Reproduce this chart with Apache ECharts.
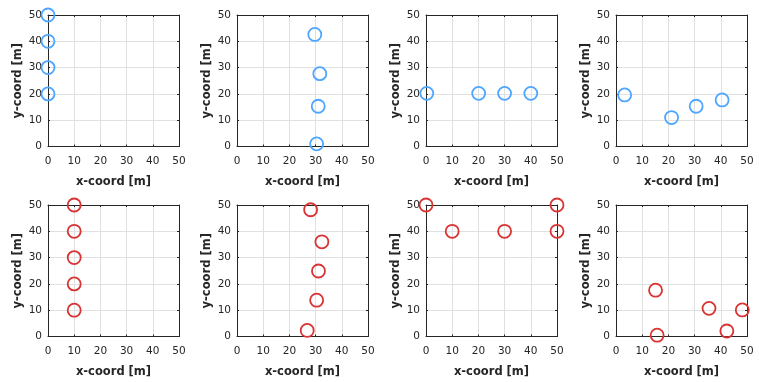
<!DOCTYPE html>
<html>
<head>
<meta charset="utf-8">
<script src="https://cdn.jsdelivr.net/npm/echarts@6/dist/echarts.min.js"></script>
<style>html,body{margin:0;padding:0;background:#fff}#c{width:759px;height:382px}</style>
</head>
<body>
<div id="c"></div>
<script>
// Panel data: [x, y] in metres
const panel1 = [[0, 50], [0, 40], [0, 30], [0, 20]];
const panel2 = [[29.7, 42.6], [31.6, 27.7], [31.0, 15.3], [30.4, 1.0]];
const panel3 = [[0.3, 20.2], [20.1, 20.2], [30.0, 20.2], [40.0, 20.2]];
const panel4 = [[3.3, 19.6], [21.2, 11.0], [30.6, 15.3], [40.5, 17.7]];
const panel5 = [[10, 50], [10, 40], [10, 30], [10, 20], [10, 10]];
const panel6 = [[28.1, 48.2], [32.4, 36.0], [31.1, 24.9], [30.4, 13.8], [26.8, 2.3]];
const panel7 = [[0, 50], [10, 40], [30, 40], [50, 50], [50, 40]];
const panel8 = [[15.1, 17.6], [15.7, 0.5], [35.5, 10.7], [42.3, 2.1], [48.2, 10.1]];
const panels = [panel1, panel2, panel3, panel4, panel5, panel6, panel7, panel8];
const colors = ['#4DA6FF','#4DA6FF','#4DA6FF','#4DA6FF','#D93333','#D93333','#D93333','#D93333'];
const ticks = [0, 10, 20, 30, 40, 50];
const xTitle = 'x-coord [m]';
const yTitle = 'y-coord [m]';

const lefts = [48, 237, 426, 616];
const tops = [15, 205];
const W = 131, H = 131.5;
const font = 'DejaVu Sans, Verdana, sans-serif';
const grids = [], xAxes = [], yAxes = [], series = [];
panels.forEach((d, i) => {
  const c = i % 4, r = Math.floor(i / 4);
  grids.push({left: lefts[c], top: tops[r], width: W, height: H});
  const axisCommon = {
    gridIndex: i, type: 'value', min: ticks[0], max: ticks[ticks.length - 1], interval: 10,
    nameLocation: 'middle',
    nameTextStyle: {fontFamily: font, fontWeight: 'bold', fontSize: 11.5, color: '#262626'},
    axisLine: {show: true, onZero: false, lineStyle: {color: '#262626', width: 1}},
    axisTick: {show: true, inside: true, length: 2, lineStyle: {color: '#262626'}},
    axisLabel: {fontFamily: font, fontSize: 10.5, color: '#262626'},
    splitLine: {show: true, lineStyle: {color: '#e0e0e0', width: 1}},
    z: 1
  };
  xAxes.push(Object.assign({}, axisCommon, {position: 'bottom', name: xTitle, nameGap: 30, axisLabel: Object.assign({}, axisCommon.axisLabel, {margin: 9})}));
  yAxes.push(Object.assign({}, axisCommon, {position: 'left', name: yTitle, nameGap: 24, axisLabel: Object.assign({}, axisCommon.axisLabel, {margin: 6})}));
  series.push({
    type: 'scatter', xAxisIndex: i, yAxisIndex: i, data: d, clip: false,
    symbol: 'circle', symbolSize: 13,
    itemStyle: {color: 'rgba(0,0,0,0)', borderColor: colors[i], borderWidth: 1.8, opacity: 1},
    silent: true, z: 5
  });
});
// box: top and right frame axes
panels.forEach((d, i) => {
  const frame = {
    gridIndex: i, type: 'value', min: ticks[0], max: ticks[ticks.length - 1], interval: 10,
    axisLine: {show: true, onZero: false, lineStyle: {color: '#262626', width: 1}},
    axisTick: {show: true, inside: true, length: 2, lineStyle: {color: '#262626'}},
    axisLabel: {show: false}, splitLine: {show: false}, z: 3
  };
  xAxes.push(Object.assign({}, frame, {position: 'top'}));
  yAxes.push(Object.assign({}, frame, {position: 'right'}));
});
const chart = echarts.init(document.getElementById('c'), null, {renderer: 'canvas'});
chart.setOption({animation: false, backgroundColor: '#fff', grid: grids, xAxis: xAxes, yAxis: yAxes, series: series});
</script>
</body>
</html>
